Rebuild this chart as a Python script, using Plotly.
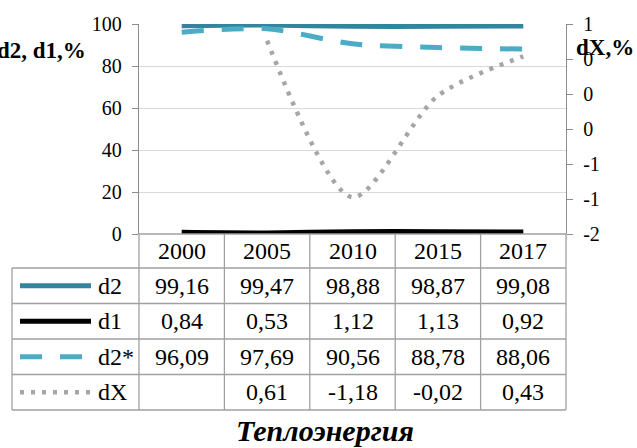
import plotly.graph_objects as go

# --- data -------------------------------------------------------------
years = ["2000", "2005", "2010", "2015", "2017"]
d2 = [99.16, 99.47, 98.88, 98.87, 99.08]
d1 = [0.84, 0.53, 1.12, 1.13, 0.92]
d2_star = [96.09, 97.69, 90.56, 88.78, 88.06]
dx = [None, 0.61, -1.18, -0.02, 0.43]

left_ticks = [0, 20, 40, 60, 80, 100]
right_tickvals = [-1.6, -1.2, -0.8, -0.4, 0.0, 0.4, 0.8]
right_ticktext = ["-2", "-1", "-1", "0", "0", "0", "1"]

title_text = "Теплоэнергия"
left_title = "d2, d1,%"
right_title = "dX,%"

# --- styling ----------------------------------------------------------
W, H = 637, 448
L, R, T, B = 139, 566, 24, 234          # plot area in pixels
FONT = "Liberation Serif"
C_D2 = "#31859C"
C_D1 = "#000000"
C_D2S = "#4BACC6"
C_DX = "#A6A6A6"
BORDER = "#A0A0A0"
GRID = "#D9D9D9"
AXIS = "#8C8C8C"
TXT = dict(family=FONT, size=24, color="black")

series = [
    ("d2", d2, "y", dict(color=C_D2, width=5)),
    ("d1", d1, "y", dict(color=C_D1, width=5)),
    ("d2*", d2_star, "y", dict(color=C_D2S, width=5, dash="22px,18px")),
    ("dX", dx, "y2", dict(color=C_DX, width=4.5, dash="4px,7px")),
]


def px_x(x):
    return (x - L) / (R - L)


def px_y(y):
    return (B - y) / (B - T)


fig = go.Figure()
for name, vals, axis, line in series:
    fig.add_trace(go.Scatter(
        x=years, y=vals, name=name, yaxis=axis, mode="lines",
        line=dict(shape="spline", smoothing=0.8, **line),
        connectgaps=False, showlegend=False, hoverinfo="skip",
    ))

shapes = []
annotations = []


def label(x, y, text, xanchor="center", font=TXT):
    annotations.append(dict(x=x, y=y, xref="paper", yref="paper", text=text,
                            showarrow=False, xanchor=xanchor,
                            yanchor="middle", font=font))


# --- data table below the plot ---------------------------------------
head_top, head_bot = 234, 268
row_h = (410 - head_bot) / 4
table_left = 12
n = len(years)


def col_center(i):
    # category i sits in the middle of its band on the x axis
    return (i + 0.5) / n


def col_edge(i):
    return i / n


def hline(y, x0, x1):
    shapes.append(dict(type="line", xref="paper", yref="paper",
                       x0=x0, x1=x1, y0=px_y(y), y1=px_y(y),
                       line=dict(color=BORDER, width=1.3)))


def vline(x, y0, y1):
    shapes.append(dict(type="line", xref="paper", yref="paper",
                       x0=x, x1=x, y0=px_y(y0), y1=px_y(y1),
                       line=dict(color=BORDER, width=1.3)))


# header row with the years
hline(head_top, 0, 1)
for i in range(n + 1):
    vline(col_edge(i), head_top, head_bot)
for i, yr in enumerate(years):
    label(col_center(i), px_y((head_top + head_bot) / 2), yr)

# body rows
for r in range(5):
    hline(head_bot + r * row_h, px_x(table_left), 1)
vline(px_x(table_left), head_bot, 410)
for i in range(n + 1):
    vline(col_edge(i), head_bot, 410)

for r, (name, vals, axis, line) in enumerate(series):
    yc = head_bot + (r + 0.5) * row_h
    shapes.append(dict(type="line", xref="paper", yref="paper",
                       x0=px_x(20), x1=px_x(91), y0=px_y(yc), y1=px_y(yc),
                       line=dict(line)))
    label(px_x(96), px_y(yc), name, xanchor="left")
    for i, v in enumerate(vals):
        if v is None:
            continue
        label(col_center(i), px_y(yc), f"{v:.2f}".replace(".", ","))

# axis titles and chart caption
label(px_x(88), px_y(50), f"<b>{left_title}</b>", xanchor="right",
      font=dict(family=FONT, size=23, color="black"))
label(px_x(574), px_y(47), f"<b>{right_title}</b>", xanchor="left",
      font=dict(family=FONT, size=23, color="black"))
label(px_x(325), px_y(430), f"<b><i>{title_text}</i></b>",
      font=dict(family=FONT, size=30, color="black"))

tickfont = dict(family=FONT, size=20, color="black")
fig.update_layout(
    width=W, height=H,
    margin=dict(l=L, r=W - R, t=T, b=H - B, autoexpand=False),
    paper_bgcolor="white", plot_bgcolor="white",
    font=dict(family=FONT, size=20, color="black"),
    xaxis=dict(type="category", range=[-0.5, n - 0.5], showticklabels=False,
               showgrid=False, showline=False, zeroline=False, ticks=""),
    yaxis=dict(range=[0, 100], tickvals=left_ticks, showgrid=True,
               gridcolor=GRID, gridwidth=1.3, zeroline=False,
               showline=True, linecolor=AXIS, linewidth=1.3,
               ticks="outside", ticklen=6, tickcolor=AXIS, tickwidth=1.3,
               tickfont=tickfont, ticklabelstandoff=6),
    yaxis2=dict(range=[-1.6, 0.8], overlaying="y", side="right",
                tickvals=right_tickvals, ticktext=right_ticktext,
                showgrid=False, zeroline=False,
                showline=True, linecolor=AXIS, linewidth=1.3,
                ticks="outside", ticklen=6, tickcolor=AXIS, tickwidth=1.3,
                tickfont=tickfont, ticklabelstandoff=6),
    shapes=shapes,
    annotations=annotations,
)

fig.write_html("out.html")
